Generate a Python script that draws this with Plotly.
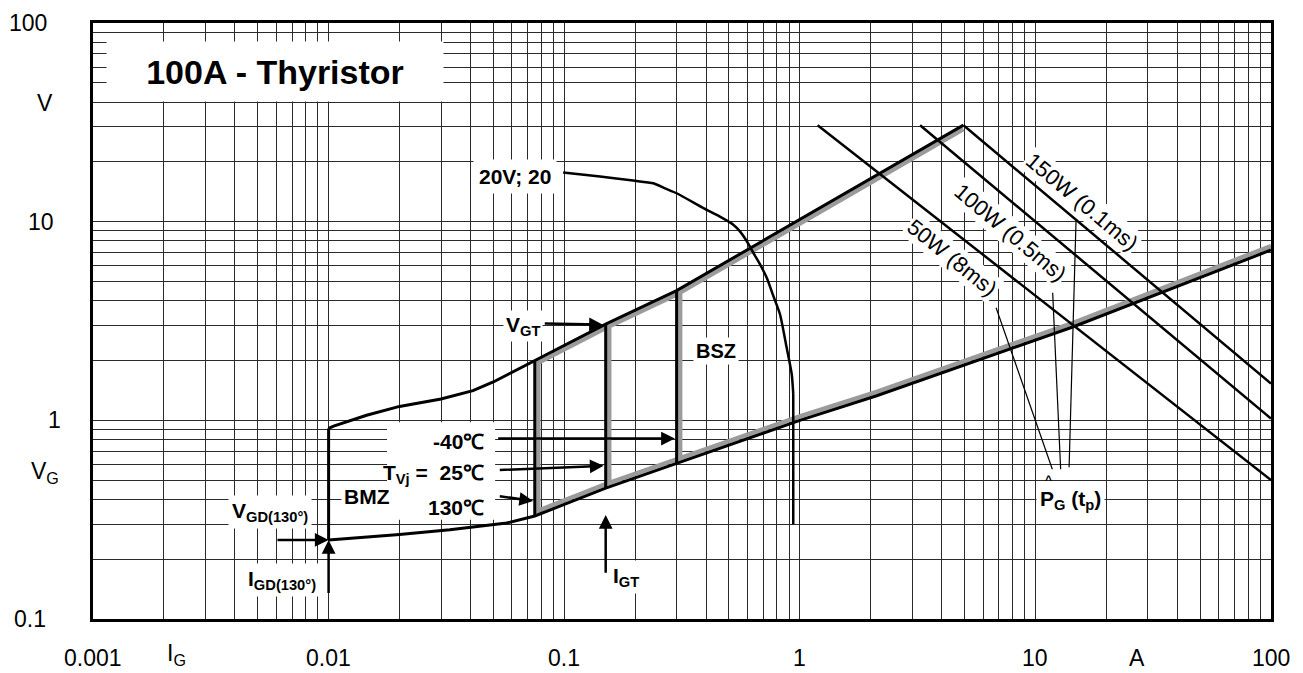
import numpy as np
import plotly.graph_objects as go

FONT = "Liberation Sans, Arial, Helvetica, sans-serif"
lg = np.log10

# ---------------- axis tick labels ----------------
x_tick_vals = [0.001, 0.01, 0.1, 1, 10, 100]
x_tick_text = ["0.001", "0.01", "0.1", "1", "10", "100"]
y_tick_vals = [0.1, 1, 10, 100]
y_tick_text = ["0.1", "1", "10", "100"]

# ---------------- gate characteristic ----------------
upper_x = [0.01, 0.0105, 0.0145, 0.020, 0.030, 0.041, 0.050, 0.075, 0.15, 0.30, 0.615, 4.95]
upper_y = [0.91, 0.935, 1.06, 1.175, 1.28, 1.41, 1.56, 2.0, 3.05, 4.5, 7.35, 30.6]
lower_x = [0.01, 0.020, 0.0327, 0.0484, 0.057, 0.075, 0.15, 0.30, 1.0, 2.12, 14.4, 100]
lower_y = [0.25, 0.266, 0.281, 0.297, 0.304, 0.33, 0.456, 0.607, 1.0, 1.33, 2.95, 7.2]

# I_GT limits for Tvj = 130 C, 25 C, -40 C
igt_x = [0.075, 0.15, 0.30]
igt_ylo = [0.33, 0.456, 0.607]
igt_yhi = [2.0, 3.05, 4.5]

# I_GD / V_GD vertical at 0.01 A
igd_x = [0.01, 0.01]
igd_y = [0.25, 0.91]

# 20V; 20 load line
load_x = [0.099, 0.142, 0.196, 0.239, 0.268, 0.30, 0.39, 0.458, 0.522, 0.557, 0.596,
          0.635, 0.678, 0.724, 0.772, 0.824, 0.879, 0.924, 0.938, 0.938]
load_y = [17.7, 16.9, 16.1, 15.6, 14.7, 13.9, 11.7, 10.6, 9.66, 8.94, 7.97,
          6.96, 6.09, 5.22, 4.23, 3.42, 2.33, 1.71, 1.36, 0.30]

# peak gate power lines
p_labels = ["50W (8ms)", "100W (0.5ms)", "150W (0.1ms)"]
p_x0 = [1.19, 3.24, 4.95]
p_y0 = [30.6, 30.6, 30.6]
p_x1 = [100, 100, 100]
p_y1 = [0.50, 1.02, 1.53]
p_lab_x = [4.41, 7.80, 15.7]
p_lab_y = [6.57, 8.77, 12.64]
p_lab_ang = [39, 40, 40]

# leader lines to P_G(t_p) label
lead_x0 = [6.81, 11.84, 14.87]
lead_y0 = [3.69, 4.39, 10.0]
lead_x1 = [11.8, 12.8, 13.9]
lead_y1 = [0.567, 0.567, 0.58]

BLACK = "#000000"
GRAY = "#9b9b9b"
GRID = "#2a2a2a"

fig = go.Figure()

def line(x, y, color=BLACK, width=3, shape="linear", smoothing=None):
    ln = dict(color=color, width=width, shape=shape)
    if smoothing is not None:
        ln["smoothing"] = smoothing
    fig.add_trace(go.Scatter(x=x, y=y, mode="lines", line=ln,
                             hoverinfo="skip", showlegend=False))

# gray inner shadows of the BSZ region
i0 = upper_x.index(0.075)
line(upper_x[i0:], [v * 0.955 for v in upper_y[i0:]], GRAY, 4.5)
j0 = lower_x.index(0.075)
line(lower_x[j0:], [v * 1.047 for v in lower_y[j0:]], GRAY, 4.5)
for xv, lo, hi in zip(igt_x, igt_ylo, igt_yhi):
    line([xv * 1.035, xv * 1.035], [lo * 1.04, hi * 0.96], GRAY, 4.5)

# black boundary lines
line(upper_x, upper_y)
line(lower_x, lower_y)
line(igd_x, igd_y)
for xv, lo, hi in zip(igt_x, igt_ylo, igt_yhi):
    line([xv, xv], [lo, hi])
line(load_x[:-1], load_y[:-1], BLACK, 2.5, "spline", 0.6)
line(load_x[-2:], load_y[-2:], BLACK, 2.5)
for a, b, c, d in zip(p_x0, p_y0, p_x1, p_y1):
    line([a, c], [b, d], BLACK, 2.5)
for a, b, c, d in zip(lead_x0, lead_y0, lead_x1, lead_y1):
    line([a, c], [b, d], BLACK, 1.2)

# grid values (1..9 per decade)
gx = [k * 10.0 ** e for e in range(-3, 2) for k in range(1, 10)] + [100]
gy = [k * 10.0 ** e for e in range(-1, 2) for k in range(1, 10)] + [100]

ann = []

def txt(x, y, text, size=21, bold=True, bg=None, xanchor="center", yanchor="middle",
        xref="x", yref="y", angle=0, pad=2, **kw):
    d = dict(x=x, y=y, xref=xref, yref=yref, text=f"<b>{text}</b>" if bold else text,
             showarrow=False, font=dict(family=FONT, size=size, color="black"),
             xanchor=xanchor, yanchor=yanchor, textangle=angle, borderpad=pad)
    if bg:
        d["bgcolor"] = bg
    d.update(kw)
    ann.append(d)

def px2paper_x(px):
    return (px - 93) / 1178.0

def px2paper_y(py):
    return (619 - py) / 599.0

# bottom tick labels
for v, t in zip(x_tick_vals, x_tick_text):
    txt(lg(v), px2paper_y(658), t, size=23, bold=False, yref="paper")
txt(px2paper_x(176), px2paper_y(655), "I<sub>G</sub>", size=23, bold=False, xref="paper", yref="paper")
txt(px2paper_x(1137), px2paper_y(658), "A", size=23, bold=False, xref="paper", yref="paper")

# left tick labels
left_centers = [30, 54, 41, 28]
for v, t, c in zip(y_tick_vals, y_tick_text, left_centers):
    txt(px2paper_x(c), lg(v), t, size=23, bold=False, xref="paper")
txt(px2paper_x(45), px2paper_y(100), "V", size=23, bold=False, xref="paper", yref="paper")
txt(px2paper_x(45), px2paper_y(472), "V<sub>G</sub>", size=23, bold=False, xref="paper", yref="paper")

# title box
txt(lg(0.00592), lg(56.9), "100A - Thyristor", size=34, bg="white", width=330, height=53, pad=3)

# labels in the plot
txt(lg(0.0618), lg(16.9), "20V; 20", size=21, bg="white", pad=5)
txt(lg(0.0669), lg(2.99), "V<sub>GT</sub>", size=21, bg="white", pad=2)
txt(lg(0.441), lg(2.24), "BSZ", size=20, bg="white", pad=2)
txt(lg(0.01449), lg(0.412), "BMZ", size=21, bg="white", pad=2)
txt(lg(0.00564), lg(0.346), "V<sub>GD(130°)</sub>", size=21, bg="white", pad=3)
txt(lg(0.00632), lg(0.158), "I<sub>GD(130°)</sub>", size=21, bg="white", pad=3)
txt(lg(0.183), lg(0.1636), "I<sub>GT</sub>", size=21, bg="white", pad=3)
txt(lg(14.03), lg(0.3976), "P<sub>G</sub> (t<sub>p</sub>)", size=21, bg="white", pad=3)
txt(lg(11.34), lg(0.50), "^", size=12, bg=None)

# temperature labels (white box drawn as shape)
temp_text = ["-40℃", "T<sub>Vj</sub> =\u00a0 25℃", "130℃"]
temp_y = [0.785, 0.537, 0.3624]
for t, yv in zip(temp_text, temp_y):
    txt(lg(0.047), lg(yv), t, size=21, xanchor="right")

# power line labels
for t, xv, yv, a in zip(p_labels, p_lab_x, p_lab_y, p_lab_ang):
    txt(lg(xv), lg(yv), t, size=22, bold=False, bg="white", angle=a, pad=1)

# arrows (head -> tail)
arrows = [
    ((0.01, 0.25), (0.00598, 0.25)),     # V_GD
    ((0.01, 0.25), (0.01, 0.133)),       # I_GD
    ((0.146, 3.03), (0.0815, 3.07)),     # V_GT
    ((0.295, 0.81), (0.0517, 0.81)),     # -40 C
    ((0.147, 0.59), (0.0525, 0.562)),    # 25 C
    ((0.0738, 0.393), (0.0525, 0.416)),  # 130 C
    ((0.15, 0.334), (0.15, 0.168)),      # I_GT
]
for (hx, hy), (tx, ty) in arrows:
    ann.append(dict(x=lg(hx), y=lg(hy), ax=lg(tx), ay=lg(ty), xref="x", yref="y",
                    axref="x", ayref="y", text="", showarrow=True, arrowhead=2,
                    arrowsize=1.1, arrowwidth=2.5, arrowcolor="black", standoff=0))

shapes = [dict(type="rect", xref="x", yref="y", x0=0.0177, x1=0.0509, y0=0.3156, y1=0.977,
               fillcolor="white", line=dict(width=0), layer="between")]

# the page body has an 8 px margin: the figure is 1295x665 placed at (8, 8)
fig.update_layout(
    width=1295, height=665,
    margin=dict(l=85, r=32, t=12, b=54),
    paper_bgcolor="white", plot_bgcolor="white",
    font=dict(family=FONT, size=21, color="black"),
    showlegend=False,
    xaxis=dict(type="log", range=[-3, 2], tickvals=gx, showticklabels=False, ticks="",
               showgrid=True, gridcolor=GRID, gridwidth=1, zeroline=False,
               showline=True, linecolor="black", linewidth=3, mirror=True, fixedrange=True),
    yaxis=dict(type="log", range=[-1, 2], tickvals=gy, showticklabels=False, ticks="",
               showgrid=True, gridcolor=GRID, gridwidth=1, zeroline=False,
               showline=True, linecolor="black", linewidth=3, mirror=True, fixedrange=True),
    annotations=ann,
    shapes=shapes,
)

fig.write_html("out.html")
